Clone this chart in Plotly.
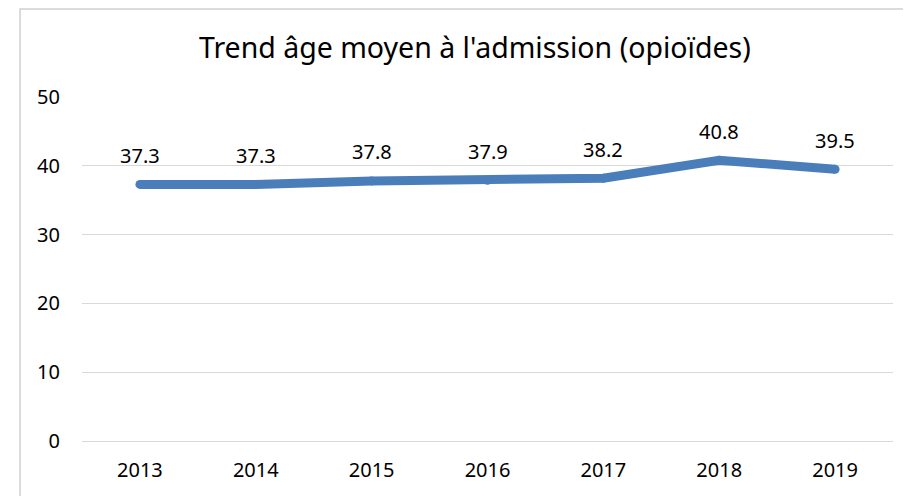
import plotly.graph_objects as go

years = ["2013", "2014", "2015", "2016", "2017", "2018", "2019"]
ages = [37.3, 37.3, 37.8, 37.9, 38.2, 40.8, 39.5]
age_labels = ["37.3", "37.3", "37.8", "37.9", "38.2", "40.8", "39.5"]
y_ticks = [0, 10, 20, 30, 40, 50]

blue = "#4A7EBB"
font = "Noto Sans, Open Sans, sans-serif"

fig = go.Figure(go.Scatter(
    x=years,
    y=ages,
    mode="lines+markers",
    line=dict(color=blue, width=9),
    marker=dict(color=blue, size=9),
    hoverinfo="x+y",
))

# data labels above each point (x given as category index)
for i, (v, lab) in enumerate(zip(ages, age_labels)):
    fig.add_annotation(x=i, y=v, text=lab, showarrow=False, yshift=29,
                       font=dict(size=20, color="#000000", family=font))

# outer chart border (top edge sits right at the top of the figure)
fig.add_shape(type="rect", xref="paper", yref="paper",
              x0=-0.0764, x1=1.05, y0=-0.4, y1=1.2555,
              line=dict(color="#D0D0D0", width=1.5), layer="below")

# page body has an 8px margin, so the figure is a bit smaller than the window
fig.update_layout(
    width=903, height=488,
    margin=dict(l=74, r=18, t=89, b=55),
    paper_bgcolor="white", plot_bgcolor="white",
    title=dict(text="Trend âge moyen à l'admission (opioïdes)",
               x=0.5170, xanchor="center", y=0.918, yanchor="middle",
               font=dict(size=28.5, color="#000000", family=font)),
    xaxis=dict(type="category", range=[-0.5, 6.5], showgrid=False,
               showline=False, ticks="",
               tickfont=dict(size=20, color="#000000", family=font),
               ticklabelstandoff=15),
    yaxis=dict(range=[0, 50], tickvals=y_ticks, showgrid=True,
               gridcolor="#D9D9D9", gridwidth=1, zeroline=True,
               zerolinecolor="#D9D9D9", zerolinewidth=1, showline=False,
               tickfont=dict(size=20, color="#000000", family=font),
               ticklabelstandoff=21),
    showlegend=False,
)

fig.write_html("out.html")
